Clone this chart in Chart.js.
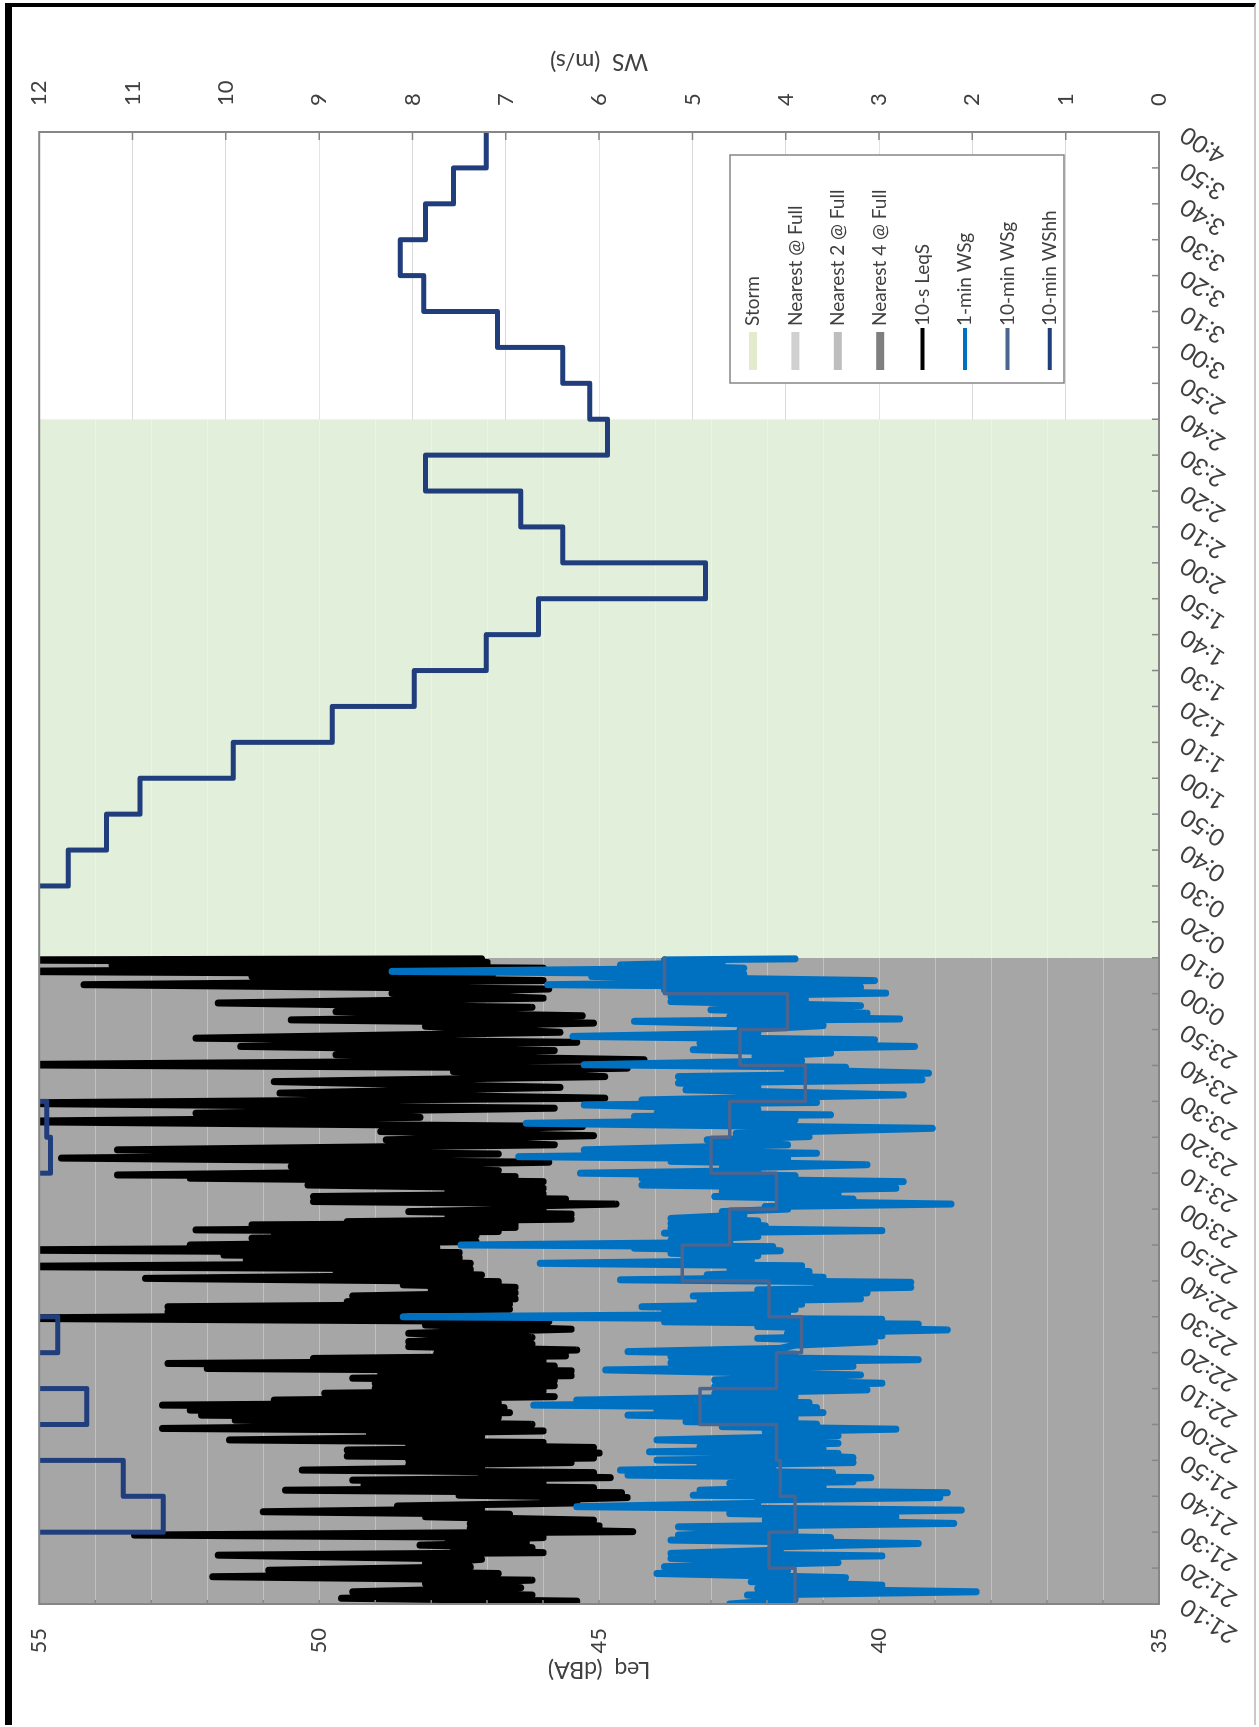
<!DOCTYPE html>
<html>
<head>
<meta charset="utf-8">
<script src="https://cdn.jsdelivr.net/npm/chart.js@4.4.1/dist/chart.umd.min.js"></script>
<style>
html, body { margin: 0; padding: 0; background: #fff; }
#page { position: relative; width: 1259px; height: 1727px; overflow: hidden; background: #fff; }
#wrap { position: absolute; left: 0; top: 1727px; width: 1727px; height: 1259px; transform-origin: 0 0; transform: rotate(-90deg); }
#frame { position: absolute; left: 5px; top: 3px; width: 1251px; height: 1722px; box-sizing: border-box;
  border-left: 7px solid #000; border-top: 4px solid #000; border-right: 2px solid #c8c8c8; }
</style>
</head>
<body>
<div id="page">
  <div id="wrap"><canvas id="chart" width="1727" height="1259"></canvas></div>
  <div id="frame"></div>
</div>
<script>
// time is minutes after 21:10
var stormSpan = [180, 330];
var nearSpan = [0, 180];

// 10-s LeqS, read as peaks/troughs of the trace
var leqT = [0, 1.6, 3.4, 5.7, 7.6, 9.4, 11.3, 13.6, 15.0, 16.4, 17.8, 19.2, 21.1, 22.4, 24.3, 25.7, 27.3, 29.0, 30.3, 31.7,
  33.1, 34.5, 35.9, 37.3, 38.7, 40.1, 41.2, 42.9, 44.3, 45.7, 47.5, 48.9, 51.2, 52.6, 54.0, 55.4, 56.8, 58.7, 60.1, 61.5,
  62.9, 64.3, 65.6, 67.0, 68.4, 69.8, 71.7, 73.1, 75.4, 77.7, 79.6, 81.4, 82.8, 84.2, 85.8, 87.5, 88.9, 90.7, 92.6, 94.0,
  95.8, 97.2, 98.6, 100.0, 101.9, 103.3, 104.2, 105.6, 106.5, 107.9, 109.3, 110.7, 112.1, 113.5, 114.9, 116.7, 118.6, 119.5, 121.9, 124.2,
  126.5, 129.3, 131.6, 134.4, 136.7, 139.5, 142.3, 145.5, 148.3, 150.2, 153.0, 155.3, 157.6, 160.9, 162.7, 165.0, 167.4, 170.1, 172.5, 174.8,
  176.2, 178.0, 179.4];
var leqHi = [47.8, 49.6, 49.4, 48.1, 51.9, 50.9, 48.1, 51.8, 47.6, 48.2, 47.7, 53.3, 47.3, 47.3, 48.1, 51.0, 48.6, 46.0, 47.5, 50.6,
  49.2, 49.4, 47.1, 50.3, 48.4, 48.4, 49.5, 49.5, 48.4, 51.6, 49.1, 52.8, 51.5, 52.1, 52.3, 52.8, 50.8, 49.9, 49.0, 49.0,
  49.4, 48.9, 52.0, 52.7, 50.1, 47.9, 48.4, 48.4, 48.4, 48.1, 56, 52.7, 52.7, 49.5, 49.4, 48.0, 48.5, 53.1, 49.7, 56,
  51.3, 51.7, 56, 52.3, 51.2, 50.8, 52.2, 51.2, 49.5, 47.7, 48.4, 46.7, 50.1, 50.1, 47.7, 50.2, 52.3, 53.6, 50.5, 54.6,
  53.6, 48.8, 48.9, 56, 52.2, 56, 50.7, 50.8, 47.6, 56, 49.7, 51.4, 52.2, 48.1, 50.5, 49.7, 51.8, 48.7, 54.2, 51.2,
  56, 53.7, 56];
var leqLo = [45.4, 46.2, 46.4, 46.2, 46.8, 47.3, 47.1, 46.0, 46.2, 46.3, 46.0, 44.4, 45.0, 45.1, 46.6, 47.1, 45.4, 44.5, 44.6, 45.1,
  46.0, 44.8, 45.1, 47.1, 45.5, 45.1, 45.0, 45.1, 46.0, 47.1, 46.0, 46.2, 46.8, 46.6, 46.7, 46.8, 45.8, 46.0, 45.8, 45.8,
  45.5, 45.5, 45.8, 46.0, 45.6, 45.4, 46.2, 46.2, 45.5, 45.9, 48.5, 46.6, 46.6, 46.5, 46.5, 46.5, 46.8, 47.1, 47.3, 47.3,
  47.5, 47.5, 47.9, 47.2, 47.2, 46.8, 46.5, 46.5, 45.5, 45.5, 46.0, 44.7, 45.6, 46.0, 46.0, 46.0, 46.5, 46.8, 45.9, 46.8,
  45.8, 45.1, 45.3, 48.2, 45.8, 44.9, 45.7, 44.9, 44.5, 44.2, 45.8, 45.4, 45.7, 45.1, 45.3, 46.2, 46.0, 45.9, 46.0, 46.9,
  46.0, 47.0, 47.1];

// 1-min WSg, peaks/troughs
var wsT = [0, 2.5, 4.3, 6.2, 8.5, 10.4, 12.7, 14.1, 15.9, 17.8, 19.2, 21.5, 23.4, 25.2, 27.1, 29.0, 30.3, 31.7, 33.6, 34.5,
  35.9, 37.3, 38.7, 40.1, 41.5, 42.4, 43.8, 45.7, 48.0, 49.4, 50.8, 52.6, 54.0, 55.4, 56.8, 58.7, 60.6, 62.4, 65.2, 67.2,
  68.9, 70.3, 72.1, 74.0, 75.4, 77.3, 78.6, 80.0, 81.4, 82.8, 84.2, 85.8, 87.5, 88.9, 90.3, 91.7, 93.5, 94.9, 96.3, 97.7,
  99.1, 100.0, 101.4, 103.3, 104.7, 106.0, 107.4, 109.3, 110.7, 112.1, 113.5, 114.9, 116.7, 118.6, 120.0, 121.4, 123.3, 124.6, 126.5, 129.3,
  131.1, 133.9, 135.8, 136.7, 139.0, 140.4, 143.2, 145.1, 146.9, 148.8, 150.2, 152.5, 154.4, 156.2, 158.1, 159.9, 162.3, 163.6, 165.5, 167.8,
  169.2, 171.1, 172.5, 174.8, 176.2, 178.0, 179.4];
var wsHi = [4.6, 4.41, 4.3, 4.37, 5.38, 5.3, 5.23, 5.23, 4.14, 5.23, 5.15, 5.15, 4.22, 4.6, 6.24, 4.3, 4.99, 4.92, 4.6, 3.9,
  5.69, 5.77, 4.92, 5.38, 3.9, 5.46, 4.92, 5.38, 4.22, 4.68, 5.07, 5.69, 5.38, 6.7, 6.24, 4.76, 4.76, 4.76, 5.93, 5.23,
  5.23, 5.69, 3.9, 4.3, 3.98, 4.3, 5.3, 8.1, 5.3, 5.54, 4.92, 4.99, 4.3, 3.67, 5.77, 4.84, 4.6, 6.63, 5.07, 5.23,
  5.62, 7.48, 5.23, 5.3, 5.23, 5.23, 5.23, 4.68, 4.22, 4.06, 4.76, 4.68, 5.54, 5.54, 6.2, 4.68, 5.23, 6.86, 6.16, 4.84,
  4.53, 6.78, 5.62, 5.38, 6.16, 5.54, 5.07, 5.15, 5.15, 3.98, 6.16, 4.33, 4.99, 4.92, 6.28, 4.49, 5.62, 4.6, 4.8, 5.23,
  5.23, 5.3, 6.55, 6.08, 8.22, 5.77, 5.3];
var wsLo = [3.9, 1.96, 2.97, 3.36, 3.98, 3.44, 2.97, 4.06, 2.58, 3.52, 3.9, 2.2, 2.82, 2.12, 4.3, 2.35, 2.27, 3.6, 3.28, 3.09,
  3.5, 4.14, 3.28, 3.28, 3.44, 3.6, 3.44, 3.44, 2.82, 3.67, 3.9, 3.6, 3.67, 3.75, 3.9, 3.13, 2.97, 3.2, 3.28, 2.58,
  3.9, 4.06, 3.05, 2.97, 2.27, 2.58, 2.97, 3.98, 3.9, 3.83, 3.2, 3.13, 2.66, 2.66, 3.6, 3.75, 3.83, 4.37, 4.3, 4.06,
  4.14, 4.6, 4.3, 2.97, 4.22, 4.3, 4.45, 3.98, 2.23, 3.28, 3.44, 2.82, 2.74, 3.9, 4.3, 3.13, 3.98, 3.67, 3.98, 3.75,
  2.43, 3.9, 3.52, 4.3, 3.67, 2.74, 4.3, 2.54, 2.47, 3.36, 3.83, 3.52, 2.62, 3.05, 4.3, 3.6, 2.78, 3.13, 3.2, 3.79,
  2.93, 3.2, 3.05, 4.45, 4.45, 4.68, 3.9];

// 10-min WSg, one value per 10 min from 21:10
var wsg10 = [3.9, 4.18, 3.9, 4.06, 4.1, 4.92, 4.1, 3.83, 4.18, 5.11, 4.6, 4.1, 4.8, 4.6, 3.79, 4.49, 3.98, 5.3];

// 10-min WShh, one value per 10 min from 21:10 (values over 12 run off the top)
var wshh10 = [13, 13, 10.67, 11.1, 13, 11.49, 13, 11.8, 13, 13, 13, 13, 11.88, 11.92, 13, 13, 13, 13, 13, 13,
  11.69, 11.28, 10.92, 9.92, 8.86, 7.98, 7.21, 6.65, 4.86, 6.39, 6.84, 7.86, 5.91, 6.1, 6.39, 7.09, 7.88, 8.13, 7.86, 7.56,
  7.21];

function zigzag(t, hi, lo, end) {
  var pts = [];
  for (var i = 0; i < t.length; i++) {
    var next = i < t.length - 1 ? t[i + 1] : end;
    pts.push({ x: t[i], y: hi[i] });
    pts.push({ x: (t[i] + next) / 2, y: lo[i] });
  }
  return pts;
}

function steps(vals) {
  var pts = [];
  for (var i = 0; i < vals.length; i++) pts.push({ x: i * 10, y: vals[i] });
  pts.push({ x: vals.length * 10, y: vals[vals.length - 1] });
  return pts;
}

function span(s, top) {
  return [{ x: s[0], y: top }, { x: s[1], y: top }];
}

function hhmm(v) {
  var m = (21 * 60 + 10 + v) % 1440;
  var mm = m % 60;
  return Math.floor(m / 60) + ':' + (mm < 10 ? '0' : '') + mm;
}

var FONT = 'Lato, "Open Sans", sans-serif';
var TXT = '#404040';

var plotExtras = {
  id: 'plotExtras',
  // level grid shows as pale lines over the shaded periods
  afterDatasetDraw: function(chart, args) {
    if (args.index !== 3) return;
    var ctx = chart.ctx, a = chart.chartArea, sl = chart.scales.leq;
    ctx.save();
    ctx.strokeStyle = 'rgba(255,255,255,0.3)';
    ctx.lineWidth = 1;
    ctx.beginPath();
    for (var l = 36; l < 55; l++) {
      var ly = Math.round(sl.getPixelForValue(l)) + 0.5;
      ctx.moveTo(a.left, ly); ctx.lineTo(a.right, ly);
    }
    ctx.stroke();
    ctx.restore();
  },
  afterDatasetsDraw: function(chart) {
    var ctx = chart.ctx, a = chart.chartArea;
    var sx = chart.scales.x, sl = chart.scales.leq, sw = chart.scales.ws;
    ctx.save();
    ctx.strokeStyle = '#868686';
    ctx.lineWidth = 2;
    ctx.strokeRect(a.left, a.top, a.right - a.left, a.bottom - a.top);
    ctx.lineWidth = 1.5;
    ctx.beginPath();
    for (var t = 10; t < 410; t += 10) {
      var px = sx.getPixelForValue(t);
      ctx.moveTo(px, a.bottom); ctx.lineTo(px, a.bottom - 7);
    }
    for (var w = 1; w < 12; w++) {
      var py = sw.getPixelForValue(w);
      ctx.moveTo(a.right, py); ctx.lineTo(a.right - 8, py);
    }
    for (var l = 36; l < 55; l++) {
      var ly = sl.getPixelForValue(l);
      ctx.moveTo(a.left, ly); ctx.lineTo(a.left + 4, ly);
    }
    ctx.stroke();

    // axis title of the wind speed axis, turned like the level title
    ctx.fillStyle = TXT;
    ctx.font = '23px ' + FONT;
    ctx.textAlign = 'center';
    ctx.textBaseline = 'middle';
    ctx.translate(1666, (a.top + a.bottom) / 2);
    ctx.rotate(-Math.PI / 2);
    ctx.fillText('WS  (m/s)', 0, 0);
    ctx.restore();

    // legend box
    var bx = 1344, by = 730, bw = 228, bh = 334;
    ctx.save();
    ctx.fillStyle = '#fff';
    ctx.fillRect(bx, by, bw, bh);
    ctx.strokeStyle = '#868686';
    ctx.lineWidth = 1.5;
    ctx.strokeRect(bx, by, bw, bh);
    ctx.font = '19px ' + FONT;
    ctx.textBaseline = 'middle';
    ctx.textAlign = 'left';
    chart.data.datasets.forEach(function(ds, i) {
      var cy = by + 23 + i * 42.4;
      if (ds.kind === 'box') {
        ctx.fillStyle = ds.swatch;
        ctx.fillRect(bx + 13, cy - 4, 38, 8);
      } else {
        ctx.strokeStyle = ds.borderColor;
        ctx.lineWidth = 4;
        ctx.beginPath();
        ctx.moveTo(bx + 13, cy); ctx.lineTo(bx + 55, cy);
        ctx.stroke();
      }
      ctx.fillStyle = TXT;
      ctx.fillText(ds.label, bx + 57, cy);
    });
    ctx.restore();
  }
};

new Chart(document.getElementById('chart').getContext('2d'), {
  type: 'line',
  data: {
    datasets: [
      { label: 'Storm', kind: 'box', swatch: '#E2EBCB', data: span(stormSpan, 55), yAxisID: 'leq',
        backgroundColor: '#E2EFDA', borderWidth: 0, fill: 'start', order: 8 },
      { label: 'Nearest @ Full', kind: 'box', swatch: '#D0D0D0', data: span(nearSpan, 55), yAxisID: 'leq',
        backgroundColor: '#BFBFBF', borderWidth: 0, fill: 'start', order: 7 },
      { label: 'Nearest 2 @ Full', kind: 'box', swatch: '#BEBEBE', data: span(nearSpan, 55), yAxisID: 'leq',
        backgroundColor: '#A6A6A6', borderWidth: 0, fill: 'start', order: 6 },
      { label: 'Nearest 4 @ Full', kind: 'box', swatch: '#7F7F7F', data: [], yAxisID: 'leq',
        backgroundColor: '#7F7F7F', borderWidth: 0, fill: 'start', order: 5 },
      { label: '10-s LeqS', kind: 'line', data: zigzag(leqT, leqHi, leqLo, 180), yAxisID: 'leq',
        borderColor: '#000000', borderWidth: 7, fill: false, order: 4 },
      { label: '1-min WSg', kind: 'line', data: zigzag(wsT, wsHi, wsLo, 180), yAxisID: 'ws',
        borderColor: '#0070C0', borderWidth: 7, fill: false, order: 3 },
      { label: '10-min WSg', kind: 'line', data: steps(wsg10), yAxisID: 'ws', stepped: 'before',
        borderColor: '#4A6590', borderWidth: 3.5, fill: false, order: 2 },
      { label: '10-min WShh', kind: 'line', data: steps(wshh10), yAxisID: 'ws', stepped: 'before',
        borderColor: '#203D7C', borderWidth: 5, fill: false, order: 1 }
    ]
  },
  options: {
    responsive: false,
    animation: false,
    layout: { padding: { top: 37, left: 0, right: 0, bottom: 0 } },
    elements: { point: { radius: 0 }, line: { tension: 0, borderJoinStyle: 'round', borderCapStyle: 'round' } },
    plugins: { legend: { display: false }, tooltip: { enabled: false } },
    scales: {
      x: {
        type: 'linear', min: 0, max: 410,
        afterFit: function(s) { s.height = 100; },
        grid: { display: false, drawTicks: false },
        border: { display: false },
        ticks: { stepSize: 10, autoSkip: false, minRotation: 57, maxRotation: 57, padding: 16,
          color: TXT, font: { family: FONT, size: 24 }, callback: function(v) { return hhmm(v); } }
      },
      leq: {
        position: 'left', min: 35, max: 55,
        afterFit: function(s) { s.width = 123; },
        grid: { display: false, drawTicks: false },
        border: { display: false },
        ticks: { stepSize: 1, autoSkip: false, padding: 24, color: TXT, font: { family: FONT, size: 22 },
          callback: function(v) { return v % 5 === 0 ? String(v) : ''; } },
        title: { display: true, text: 'Leq  (dBA)', color: TXT, font: { family: FONT, size: 23 }, padding: { top: 44, bottom: 0 } }
      },
      ws: {
        position: 'right', min: 0, max: 12,
        afterFit: function(s) { s.width = 132; },
        grid: { drawTicks: false, color: '#D9D9D9' },
        border: { display: false },
        ticks: { stepSize: 1, autoSkip: false, padding: 26, color: TXT, font: { family: FONT, size: 22 } }
      }
    }
  },
  plugins: [plotExtras]
});
</script>
</body>
</html>
